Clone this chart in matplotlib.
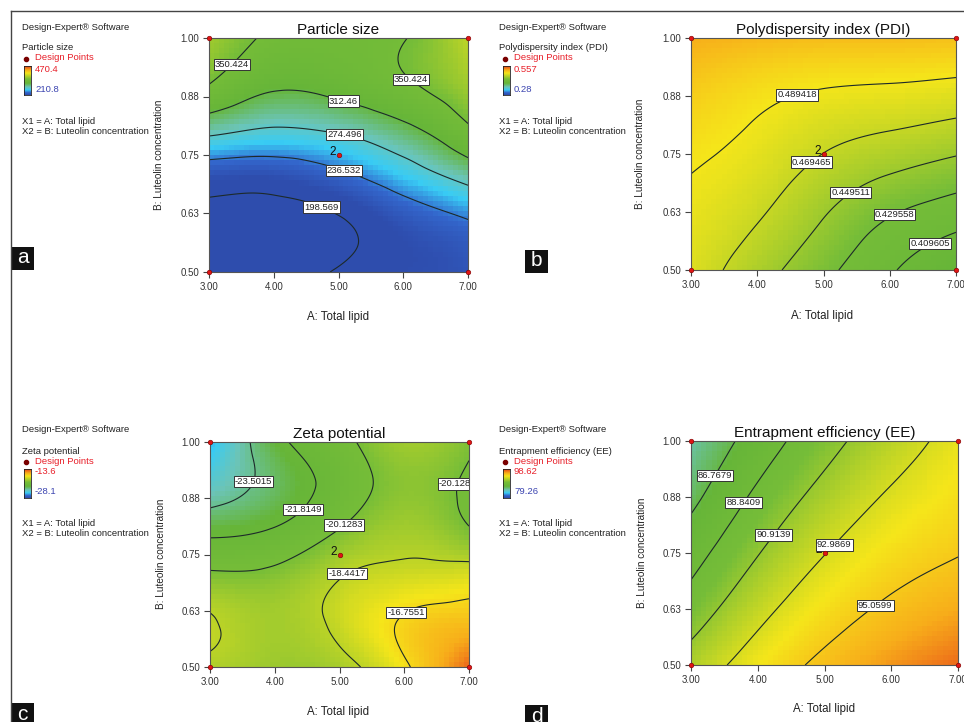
import numpy as np
import matplotlib
matplotlib.use('Agg')
import matplotlib.pyplot as plt
import matplotlib.tri as mtri
from matplotlib.colors import LinearSegmentedColormap
from matplotlib.patches import Rectangle
from matplotlib.lines import Line2D

plt.rcParams['font.family'] = ['Liberation Sans', 'DejaVu Sans']

# --- factor grid ---
lipid = [3, 4, 5, 6, 7]
luteolin = [0.5, 0.6, 0.7, 0.8, 0.9, 1.0]

# rows: luteolin 0.5 -> 1.0, columns: lipid 3 -> 7
particle_size = [
    [188, 184, 201, 212, 218],
    [190, 186, 195, 216, 232],
    [213, 212, 227, 253, 284],
    [282, 269, 277, 301, 343],
    [350, 318, 325, 345, 372],
    [372, 345, 342, 349, 385],
]
pdi = [
    [0.480, 0.458, 0.435, 0.412, 0.391],
    [0.484, 0.4695, 0.448, 0.427, 0.414],
    [0.489, 0.479, 0.462, 0.448, 0.438],
    [0.496, 0.487, 0.476, 0.4695, 0.463],
    [0.506, 0.497, 0.491, 0.489, 0.486],
    [0.520, 0.515, 0.512, 0.512, 0.510],
]
zeta = [
    [-18.7, -19.2, -18.9, -17.0, -14.3],
    [-18.3, -19.0, -18.1, -16.6, -16.0],
    [-19.8, -19.7, -18.5, -17.9, -17.6],
    [-22.15, -21.6, -20.0, -19.0, -19.95],
    [-24.5, -22.9, -21.1, -19.6, -20.4],
    [-26.0, -22.3, -20.6, -19.1, -19.9],
]
ee = [
    [91.8, 93.9, 95.45, 96.6, 97.6],
    [90.2, 92.7, 94.45, 95.6, 96.4],
    [88.7, 91.45, 93.45, 94.7, 95.4],
    [87.3, 90.2, 92.4, 93.85, 94.65],
    [85.9, 88.95, 91.3, 93.0, 94.1],
    [84.9, 87.7, 90.2, 92.1, 93.6],
]

ps_levels = [198.569, 236.532, 274.496, 312.46, 350.424]
pdi_levels = [0.409605, 0.429558, 0.449511, 0.469465, 0.489418]
zeta_levels = [-23.5015, -21.8149, -20.1283, -18.4417, -16.7551]
ee_levels = [86.7679, 88.8409, 90.9139, 92.9869, 95.0599]

ps_range = (210.8, 470.4)
pdi_range = (0.28, 0.557)
zeta_range = (-28.1, -13.6)
ee_range = (79.26, 98.62)

# where the contour labels sit (data coords)
ps_labels = [(3.31, 0.95), (6.09, 0.906), (5.09, 0.874), (5.09, 0.79), (5.09, 0.718), (4.77, 0.65)]
pdi_labels = [(4.6, 0.878), (4.8, 0.736), (5.43, 0.663), (6.1, 0.612), (6.59, 0.562)]
zeta_labels = [(3.63, 0.914), (4.34, 0.863), (5.09, 0.813), (6.63, 0.914), (5.15, 0.70), (5.96, 0.637)]
ee_labels = [(3.32, 0.926), (3.78, 0.863), (4.27, 0.787), (5.18, 0.763), (5.73, 0.638)]

design_x = [3, 3, 7, 7, 5]
design_y = [0.5, 1.0, 0.5, 1.0, 0.75]

xticks = [3, 4, 5, 6, 7]
xticklabels = ['3.00', '4.00', '5.00', '6.00', '7.00']
yticks = [0.5, 0.625, 0.75, 0.875, 1.0]
yticklabels = ['0.50', '0.63', '0.75', '0.88', '1.00']

cmap = LinearSegmentedColormap.from_list('de', [
    (0.00, (0.18, 0.30, 0.68)),
    (0.08, (0.20, 0.40, 0.80)),
    (0.17, (0.22, 0.80, 0.96)),
    (0.27, (0.42, 0.77, 0.72)),
    (0.40, (0.40, 0.71, 0.22)),
    (0.55, (0.46, 0.74, 0.22)),
    (0.67, (0.74, 0.83, 0.15)),
    (0.76, (0.96, 0.90, 0.10)),
    (0.87, (0.97, 0.68, 0.10)),
    (1.00, (0.90, 0.25, 0.10)),
])

W, H = 964, 722
fig = plt.figure(figsize=(W / 100, H / 100), dpi=100)


def rect(x0, y0, x1, y1):
    return [x0 / W, 1 - y1 / H, (x1 - x0) / W, (y1 - y0) / H]


def ftext(x, y, s, **kw):
    kw.setdefault('fontsize', 6.8)
    kw.setdefault('va', 'center')
    kw.setdefault('color', '#222222')
    fig.text(x / W, 1 - y / H, s, **kw)


# grid in scaled coords so the triangles are not skinny
GX, GY = np.meshgrid(lipid, luteolin)
tri = mtri.Triangulation(GX.ravel(), (GY.ravel() - 0.5) * 8)


def panel(box, z, zr, levels, label_pos, title, xlab_xy, ylab_xy):
    ax = fig.add_axes(rect(*box))
    interp = mtri.CubicTriInterpolator(tri, np.asarray(z, float).ravel(), kind='min_E')

    xe = np.linspace(3, 7, 53)
    ye = np.linspace(0.5, 1.0, 47)
    xc = (xe[:-1] + xe[1:]) / 2
    yc = (ye[:-1] + ye[1:]) / 2
    cx, cy = np.meshgrid(xc, yc)
    zc = interp(cx, (cy - 0.5) * 8)
    ax.pcolormesh(xe, ye, zc, cmap=cmap, vmin=zr[0], vmax=zr[1], shading='flat')

    xf = np.linspace(3 + 1e-6, 7 - 1e-6, 300)
    yf = np.linspace(0.5 + 1e-6, 1.0 - 1e-6, 300)
    fx, fy = np.meshgrid(xf, yf)
    zf = interp(fx, (fy - 0.5) * 8)
    cs = ax.contour(fx, fy, zf, levels=levels, colors='#1d2a2a', linewidths=0.8,
                    linestyles='solid')
    labels = ax.clabel(cs, fmt='%g', manual=label_pos, inline=False, fontsize=6.8)
    for t in labels:
        t.set_rotation(0)
        t.set_color('#222222')
        t.set_bbox(dict(boxstyle='square,pad=0.12', fc='white', ec='#333333', lw=0.7))

    ax.scatter(design_x, design_y, s=11, c='#e01515', edgecolors='#7a0000',
               linewidths=0.4, zorder=6, clip_on=False)
    ax.annotate('2', (5, 0.75), xytext=(-1.5, 2), textcoords='offset points',
                ha='right', va='center', fontsize=8.5, color='#111111')

    ax.set_xlim(3, 7)
    ax.set_ylim(0.5, 1.0)
    ax.set_xticks(xticks)
    ax.set_xticklabels(xticklabels)
    ax.set_yticks(yticks)
    ax.set_yticklabels(yticklabels)
    ax.tick_params(direction='out', length=4, width=0.8, color='#444444',
                   labelsize=7, labelcolor='#333333', pad=3)
    for sp in ax.spines.values():
        sp.set_color('#555555')
        sp.set_linewidth(0.8)
    ax.set_title(title, fontsize=11, pad=3, color='#111111')
    ftext(xlab_xy[0], xlab_xy[1], 'A: Total lipid', fontsize=8.3, ha='center')
    ftext(ylab_xy[0], ylab_xy[1], 'B: Luteolin concentration', fontsize=7.2,
          ha='center', rotation=90)
    return ax


def legend_block(x0, y0, dx, name, hi, lo):
    ftext(x0, y0, 'Design-Expert\u00ae Software')
    ftext(x0, y0 + 21, name)
    fig.add_artist(Line2D([(x0 + 4 + dx) / W], [1 - (y0 + 32) / H], marker='o', ms=3,
                          color='#7a0000', lw=0))
    ftext(x0 + 13 + dx, y0 + 31, 'Design Points', color='#e8202a')
    cax = fig.add_axes(rect(x0 + 2 + dx, y0 + 39, x0 + 9 + dx, y0 + 68))
    cax.imshow(np.linspace(1, 0, 60)[:, None], cmap=cmap, aspect='auto')
    cax.set_xticks([])
    cax.set_yticks([])
    for sp in cax.spines.values():
        sp.set_color('#222222')
        sp.set_linewidth(0.6)
    ftext(x0 + 13 + dx, y0 + 42, hi, color='#e8202a')
    ftext(x0 + 13 + dx, y0 + 62, lo, color='#3b44b0')
    ftext(x0, y0 + 94, 'X1 = A: Total lipid')
    ftext(x0, y0 + 104, 'X2 = B: Luteolin concentration')


panel((209, 38, 468, 272), particle_size, ps_range, ps_levels, ps_labels,
      'Particle size', (338, 317), (159, 155))
panel((691, 38, 956, 270), pdi, pdi_range, pdi_levels, pdi_labels,
      'Polydispersity index (PDI)', (822, 316), (640, 154))
panel((210, 442, 469, 667), zeta, zeta_range, zeta_levels, zeta_labels,
      'Zeta potential', (338, 712), (161, 554))
panel((691, 441, 958, 665), ee, ee_range, ee_levels, ee_labels,
      'Entrapment efficiency (EE)', (824, 709), (642, 553))

legend_block(22, 27, 0, 'Particle size', '470.4', '210.8')
legend_block(499, 27, 2, 'Polydispersity index (PDI)', '0.557', '0.28')
legend_block(22, 430, 0, 'Zeta potential', '-13.6', '-28.1')
legend_block(499, 430, 2, 'Entrapment efficiency (EE)', '98.62', '79.26')

# panel letters
for letter, (lx, ly) in zip(['a', 'b', 'c', 'd'], [(11, 247), (525, 250), (11, 703), (525, 705)]):
    fig.add_artist(Rectangle(((lx) / W, 1 - (ly + 23) / H), 23 / W, 23 / H,
                             transform=fig.transFigure, fc='#111111', ec='none'))
    ftext(lx + 11.5, ly + 11, letter, color='white', fontsize=15, ha='center')

# outer frame (top and left edges)
fig.add_artist(Line2D([11 / W, 1], [1 - 11 / H, 1 - 11 / H], color='#444444', lw=1.0))
fig.add_artist(Line2D([11 / W, 11 / W], [0, 1 - 11 / H], color='#444444', lw=1.0))

fig.savefig('out.png', dpi=100)
